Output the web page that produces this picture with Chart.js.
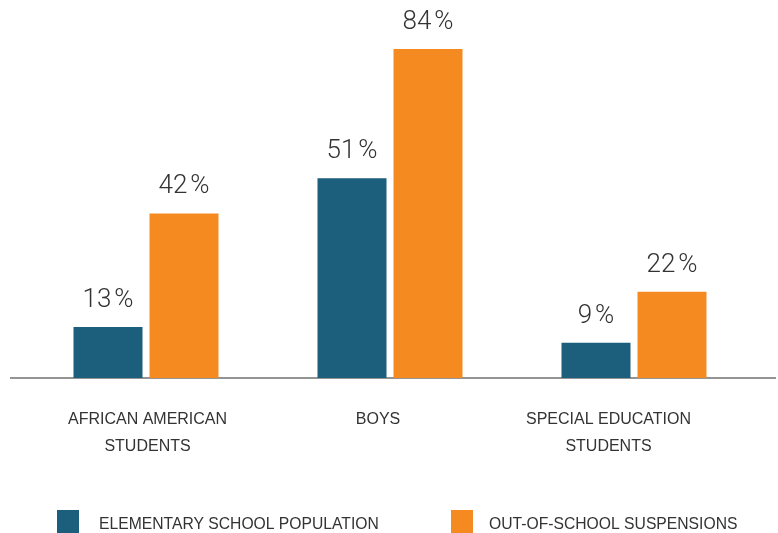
<!DOCTYPE html>
<html>
<head>
<meta charset="utf-8">
<style>
  html, body { margin: 0; padding: 0; background: #fff; }
  #chart { display: block; }
</style>
</head>
<body>
<canvas id="chart" width="778" height="533"></canvas>

<script src="https://cdn.jsdelivr.net/npm/chart.js"></script>
<script>
  const categories = [
    ["AFRICAN AMERICAN", "STUDENTS"],
    ["BOYS"],
    ["SPECIAL EDUCATION", "STUDENTS"],
  ];
  const seriesNames = ["ELEMENTARY SCHOOL POPULATION", "OUT-OF-SCHOOL SUSPENSIONS"];
  const elementary = [13, 51, 9];
  const suspensions = [42, 84, 22];
  const colors = ["#1b5f7d", "#f58a21"];

  const textColor = "#333333";
  const sansFont = "'Liberation Sans', Arial, sans-serif";

  // percent labels on top of each bar, with a small gap before the %
  const valueLabels = {
    id: "valueLabels",
    afterDatasetsDraw(chart) {
      const ctx = chart.ctx;
      ctx.save();
      ctx.fillStyle = textColor;
      ctx.font = "300 26px Roboto, sans-serif";
      ctx.textAlign = "left";
      ctx.textBaseline = "alphabetic";
      const gap = 3;
      chart.data.datasets.forEach((ds, i) => {
        chart.getDatasetMeta(i).data.forEach((bar, j) => {
          const num = String(ds.data[j]);
          const wNum = ctx.measureText(num).width;
          const wPct = ctx.measureText("%").width;
          const x0 = bar.x - (wNum + gap + wPct) / 2;
          ctx.fillText(num, x0, bar.y - 20);
          ctx.fillText("%", x0 + wNum + gap, bar.y - 20);
        });
      });
      ctx.restore();
    },
  };

  // grey baseline running across the whole width
  const baseline = {
    id: "baseline",
    beforeDatasetsDraw(chart) {
      const ctx = chart.ctx;
      const y = chart.scales.y.getPixelForValue(0);
      ctx.save();
      ctx.strokeStyle = "#707070";
      ctx.lineWidth = 1.5;
      ctx.beginPath();
      ctx.moveTo(10, y);
      ctx.lineTo(776, y);
      ctx.stroke();
      ctx.restore();
    },
  };

  // legend with square swatches along the bottom
  const bottomLegend = {
    id: "bottomLegend",
    afterDraw(chart) {
      const ctx = chart.ctx;
      const boxX = [57, 451];
      const textX = [99, 489];
      ctx.save();
      ctx.font = "15.7px " + sansFont;
      ctx.textBaseline = "middle";
      ctx.textAlign = "left";
      chart.data.datasets.forEach((ds, i) => {
        ctx.fillStyle = ds.backgroundColor;
        ctx.fillRect(boxX[i], 510, 22, 24);
        ctx.fillStyle = textColor;
        ctx.fillText(ds.label, textX[i], 525);
      });
      ctx.restore();
    },
  };

  const ctx = document.getElementById("chart").getContext("2d");

  new Chart(ctx, {
    type: "bar",
    data: {
      labels: categories,
      datasets: [
        {
          label: seriesNames[0],
          data: elementary,
          backgroundColor: colors[0],
          categoryPercentage: 0.623,
          barPercentage: 0.908,
        },
        {
          label: seriesNames[1],
          data: suspensions,
          backgroundColor: colors[1],
          categoryPercentage: 0.623,
          barPercentage: 0.908,
        },
      ],
    },
    options: {
      responsive: false,
      animation: false,
      layout: {
        padding: { left: 24, right: 22, top: 0, bottom: 70 },
      },
      plugins: {
        legend: { display: false },
        tooltip: { enabled: false },
      },
      scales: {
        x: {
          display: false,
        },
        // label axis: category names sit a little left of the bar groups
        xLabels: {
          type: "linear",
          position: "bottom",
          offset: false,
          min: -0.536,
          max: 2.64,
          grid: { display: false, drawTicks: false, offset: false },
          border: { display: false },
          afterBuildTicks(scale) {
            scale.ticks = categories.map((c, i) => ({ value: i }));
          },
          afterFit(scale) {
            scale.height = 85;
          },
          ticks: {
            color: textColor,
            padding: 28,
            autoSkip: false,
            maxRotation: 0,
            font: { family: sansFont, size: 16, lineHeight: 27 / 16 },
            callback: (value, index) => categories[index],
          },
        },
        y: {
          display: false,
          min: 0,
          max: 96.5,
        },
      },
    },
    plugins: [baseline, valueLabels, bottomLegend],
  });
</script>
</body>
</html>
